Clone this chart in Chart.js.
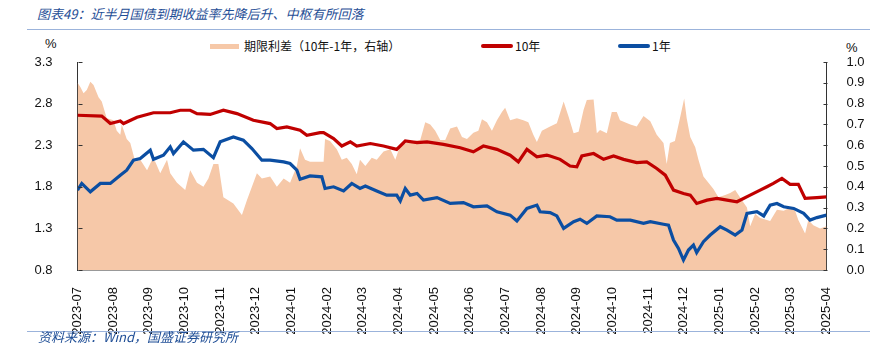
<!DOCTYPE html>
<html lang="zh">
<head>
    <meta charset="UTF-8">
    <title>国债到期收益率</title>
    <script src="https://cdn.jsdelivr.net/npm/chart.js"></script>
    <style>
        body { margin: 0; width: 870px; height: 346px; overflow: hidden; background: #fff; position: relative; }
        canvas { position: absolute; left: 0; top: 0; }
        .abs { position: absolute; white-space: nowrap; }
        .cap { font-family: "Noto Sans CJK SC", sans-serif; font-style: italic; color: #1f4e96; font-size: 13px; line-height: 16px; }
        .rule { position: absolute; left: 27px; right: 0; height: 1px; background: #9bb3db; }
        .leg { font-family: "Noto Sans CJK SC", sans-serif; font-size: 12px; line-height: 14px; color: #111; }
        .pct { font-family: "Liberation Sans", sans-serif; font-size: 13px; color: #111; }
    </style>
</head>
<body>
    <div class="abs cap" style="left:37px; top:6px;">图表49：近半月国债到期收益率先降后升、中枢有所回落</div>
    <div class="rule" style="top:29px;"></div>

    <!-- legend -->
    <div class="abs" style="left:210px; top:44px; width:29px; height:5px; background:#f6c8a8;"></div>
    <div class="abs leg" style="left:244px; top:39px;">期限利差（10年-1年，右轴）</div>
    <div class="abs" style="left:481px; top:44px; width:32px; height:4px; border-radius:2px; background:#c00000;"></div>
    <div class="abs leg" style="left:515px; top:39px;">10年</div>
    <div class="abs" style="left:618px; top:44px; width:32px; height:4px; border-radius:2px; background:#0b4ea2;"></div>
    <div class="abs leg" style="left:652px; top:39px;">1年</div>

    <div class="abs pct" style="left:45px; top:36px;">%</div>
    <div class="abs pct" style="left:846px; top:40px;">%</div>

    <canvas id="chart" width="870" height="346"></canvas>

    <div class="rule" style="top:331px;"></div>
    <div class="abs cap" style="left:38px; top:329px;">资料来源：Wind，国盛证券研究所</div>

    <script>
        // month tick labels (x = months since 2023-07)
        const monthLabels = ['2023-07', '2023-08', '2023-09', '2023-10', '2023-11', '2023-12',
            '2024-01', '2024-02', '2024-03', '2024-04', '2024-05', '2024-06', '2024-07', '2024-08',
            '2024-09', '2024-10', '2024-11', '2024-12', '2025-01', '2025-02', '2025-03', '2025-04'];

        // 10年 yield (%)
        const tenYearT = [0, 0.68, 0.92, 1.2, 1.29, 1.67, 2.13, 2.6, 2.88, 3.16,
            3.35, 3.72, 4.09, 4.47, 4.93, 5.4, 5.59, 5.87, 6.24, 6.43,
            6.8, 6.9, 7.18, 7.41, 7.65, 7.83, 8.21, 8.58, 8.95, 9.19,
            9.52, 9.8, 10.26, 10.73, 11.1, 11.38, 11.76, 12.13, 12.36, 12.6,
            12.88, 13.16, 13.25, 13.53, 13.81, 14, 14.14, 14.47, 14.75, 15.03,
            15.31, 15.68, 15.96, 16.24, 16.48, 16.71, 16.99, 17.18, 17.36, 17.65,
            17.93, 18.21, 18.49, 18.86, 19.14, 19.33, 19.51, 19.75, 19.98, 20.21,
            20.4, 20.73, 21];
        const tenYear = [2.66, 2.65, 2.56, 2.59, 2.56, 2.635, 2.69, 2.69, 2.72, 2.72,
            2.68, 2.67, 2.72, 2.68, 2.60, 2.56, 2.50, 2.52, 2.48, 2.42,
            2.45, 2.45, 2.38, 2.29, 2.34, 2.29, 2.32, 2.29, 2.25, 2.35,
            2.33, 2.34, 2.31, 2.27, 2.22, 2.29, 2.25, 2.18, 2.10, 2.25,
            2.16, 2.18, 2.17, 2.13, 2.05, 2.04, 2.17, 2.20, 2.13, 2.17,
            2.13, 2.09, 2.10, 2.02, 1.94, 1.76, 1.72, 1.70, 1.60, 1.64,
            1.66, 1.64, 1.62, 1.70, 1.76, 1.80, 1.84, 1.90, 1.83, 1.83,
            1.66, 1.67, 1.68];

        // 1年 yield (%)
        const oneYearT = [0, 0.12, 0.36, 0.64, 0.92, 1.2, 1.38, 1.57, 1.76, 2.04,
            2.13, 2.41, 2.6, 2.69, 2.97, 3.25, 3.53, 3.81, 4, 4.37,
            4.65, 4.89, 5.17, 5.4, 5.78, 5.96, 6.15, 6.24, 6.52, 6.85,
            6.94, 7.18, 7.46, 7.69, 7.92, 8.07, 8.39, 8.67, 8.95, 9.05,
            9.19, 9.33, 9.52, 9.7, 10.08, 10.45, 10.82, 11.1, 11.48, 11.76,
            12.13, 12.32, 12.6, 12.88, 12.97, 13.25, 13.44, 13.63, 13.91, 14.09,
            14.28, 14.56, 14.93, 15.12, 15.5, 15.87, 16.06, 16.43, 16.57, 16.71,
            16.85, 16.99, 17.13, 17.27, 17.36, 17.55, 17.74, 18.02, 18.21, 18.44,
            18.63, 18.77, 19.05, 19.24, 19.42, 19.61, 19.8, 20.08, 20.36, 20.54,
            20.73, 21];
        const oneYear = [1.76, 1.84, 1.74, 1.84, 1.84, 1.94, 2.00, 2.12, 2.14, 2.24,
            2.13, 2.18, 2.28, 2.20, 2.34, 2.24, 2.25, 2.15, 2.34, 2.40,
            2.36, 2.26, 2.12, 2.12, 2.10, 2.08, 2.00, 1.89, 1.93, 1.92,
            1.78, 1.80, 1.75, 1.84, 1.78, 1.81, 1.75, 1.70, 1.70, 1.63,
            1.78, 1.70, 1.72, 1.64, 1.67, 1.60, 1.61, 1.56, 1.57, 1.50,
            1.46, 1.39, 1.54, 1.58, 1.50, 1.49, 1.45, 1.30, 1.38, 1.41,
            1.36, 1.45, 1.44, 1.40, 1.40, 1.36, 1.38, 1.35, 1.34, 1.16,
            1.06, 0.92, 1.04, 1.10, 1.01, 1.14, 1.22, 1.32, 1.28, 1.22,
            1.28, 1.48, 1.50, 1.45, 1.58, 1.60, 1.56, 1.54, 1.48, 1.40,
            1.43, 1.46];

        // 期限利差 10年-1年 (%, right axis)
        const spreadT = [0, 0.08, 0.17, 0.26, 0.36, 0.45, 0.59, 0.68, 0.82, 1.01,
            1.1, 1.2, 1.24, 1.38, 1.48, 1.62, 1.76, 1.95, 2.09, 2.18,
            2.32, 2.51, 2.6, 2.79, 3.02, 3.16, 3.35, 3.53, 3.67, 3.81,
            3.95, 4.09, 4.37, 4.61, 4.75, 5.03, 5.17, 5.4, 5.59, 5.78,
            5.96, 6.15, 6.24, 6.38, 6.52, 6.9, 6.94, 7.08, 7.27, 7.41,
            7.55, 7.69, 7.83, 7.92, 8.07, 8.25, 8.39, 8.58, 8.77, 8.91,
            9.05, 9.23, 9.42, 9.61, 9.75, 9.89, 10.03, 10.17, 10.31, 10.45,
            10.64, 10.78, 10.92, 11.1, 11.24, 11.34, 11.48, 11.62, 11.76, 11.9,
            11.99, 12.13, 12.32, 12.5, 12.64, 12.78, 12.88, 13.02, 13.25, 13.44,
            13.63, 13.77, 13.91, 14.05, 14.19, 14.28, 14.47, 14.56, 14.65, 14.84,
            14.98, 15.12, 15.21, 15.5, 15.68, 15.87, 16.06, 16.24, 16.43, 16.52,
            16.61, 16.75, 16.9, 17.01, 17.08, 17.18, 17.32, 17.41, 17.55, 17.69,
            17.83, 17.97, 18.16, 18.3, 18.44, 18.63, 18.77, 18.86, 19, 19.14,
            19.33, 19.42, 19.61, 19.8, 19.98, 20.12, 20.21, 20.4, 20.49, 20.63,
            20.82, 21];
        const spread = [0.90, 0.88, 0.85, 0.865, 0.905, 0.89, 0.83, 0.81, 0.73, 0.72,
            0.67, 0.65, 0.70, 0.63, 0.61, 0.52, 0.53, 0.48, 0.53, 0.52,
            0.465, 0.53, 0.465, 0.42, 0.385, 0.48, 0.42, 0.40, 0.44, 0.51,
            0.51, 0.35, 0.32, 0.265, 0.335, 0.465, 0.44, 0.45, 0.40, 0.44,
            0.42, 0.50, 0.585, 0.53, 0.52, 0.52, 0.63, 0.62, 0.58, 0.53,
            0.54, 0.51, 0.46, 0.53, 0.50, 0.54, 0.53, 0.57, 0.58, 0.53,
            0.60, 0.61, 0.62, 0.625, 0.71, 0.70, 0.67, 0.625, 0.625, 0.68,
            0.69, 0.64, 0.63, 0.66, 0.67, 0.725, 0.71, 0.67, 0.72, 0.76,
            0.78, 0.72, 0.73, 0.72, 0.71, 0.65, 0.615, 0.67, 0.69, 0.705,
            0.81, 0.737, 0.657, 0.665, 0.77, 0.817, 0.82, 0.657, 0.673, 0.657,
            0.76, 0.76, 0.72, 0.70, 0.69, 0.74, 0.715, 0.65, 0.61, 0.51,
            0.61, 0.62, 0.737, 0.825, 0.73, 0.64, 0.59, 0.53, 0.45, 0.42,
            0.39, 0.35, 0.36, 0.37, 0.385, 0.335, 0.30, 0.21, 0.27, 0.25,
            0.24, 0.235, 0.29, 0.285, 0.30, 0.285, 0.24, 0.175, 0.24, 0.215,
            0.20, 0.21];

        const toPoints = (ts, vs) => ts.map((t, i) => ({ x: t, y: vs[i] }));

        const tickFont = { family: 'Liberation Sans', size: 13 };

        // small inward tick marks on both value axes
        const innerTicks = {
            id: 'innerTicks',
            afterDraw(chart) {
                const ctx = chart.ctx;
                ctx.save();
                ctx.strokeStyle = '#333';
                ctx.lineWidth = 1;
                [['y', 1, 'right'], ['y1', -1, 'left']].forEach(([id, dir, side]) => {
                    const s = chart.scales[id];
                    const x0 = Math.round(s[side]) + 0.5;
                    s.ticks.forEach((t, i) => {
                        const y = Math.round(s.getPixelForTick(i)) + 0.5;
                        ctx.beginPath();
                        ctx.moveTo(x0, y);
                        ctx.lineTo(x0 + dir * 4, y);
                        ctx.stroke();
                    });
                });
                ctx.restore();
            }
        };

        new Chart(document.getElementById('chart'), {
            type: 'line',
            data: {
                datasets: [
                    {
                        label: '10年',
                        data: toPoints(tenYearT, tenYear),
                        yAxisID: 'y',
                        borderColor: '#c00000',
                        borderWidth: 3.2,
                        pointRadius: 0,
                        tension: 0,
                    },
                    {
                        label: '1年',
                        data: toPoints(oneYearT, oneYear),
                        yAxisID: 'y',
                        borderColor: '#0b4ea2',
                        borderWidth: 3.2,
                        pointRadius: 0,
                        tension: 0,
                    },
                    {
                        label: '期限利差（10年-1年，右轴）',
                        data: toPoints(spreadT, spread),
                        yAxisID: 'y1',
                        borderWidth: 0,
                        borderColor: 'rgba(0,0,0,0)',
                        backgroundColor: '#f6c8a8',
                        fill: 'origin',
                        pointRadius: 0,
                        tension: 0,
                    },
                ],
            },
            options: {
                responsive: false,
                animation: false,
                devicePixelRatio: 1,
                layout: { padding: { top: 62, left: 0, right: 0, bottom: 0 } },
                plugins: {
                    legend: { display: false },
                    tooltip: { enabled: false },
                },
                scales: {
                    x: {
                        type: 'linear',
                        min: 0,
                        max: 21,
                        grid: { display: false },
                        border: { display: true, color: '#999', width: 1 },
                        ticks: {
                            stepSize: 1,
                            autoSkip: false,
                            minRotation: 90,
                            maxRotation: 90,
                            padding: 9,
                            color: '#111',
                            font: tickFont,
                            callback: v => monthLabels[v],
                        },
                        afterFit: s => { s.height = 76; },
                    },
                    y: {
                        position: 'left',
                        min: 0.8,
                        max: 3.3,
                        grid: { display: false },
                        border: { display: true, color: '#333', width: 1 },
                        ticks: {
                            stepSize: 0.5,
                            padding: 17,
                            color: '#111',
                            font: tickFont,
                            callback: v => v.toFixed(1),
                        },
                        afterFit: s => { s.width = 77.5; },
                    },
                    y1: {
                        position: 'right',
                        min: 0,
                        max: 1,
                        grid: { display: false },
                        border: { display: true, color: '#333', width: 1 },
                        ticks: {
                            stepSize: 0.1,
                            padding: 12,
                            color: '#111',
                            font: tickFont,
                            callback: v => v.toFixed(1),
                        },
                        afterFit: s => { s.width = 43.5; },
                    },
                },
            },
            plugins: [innerTicks],
        });
    </script>
</body>
</html>
